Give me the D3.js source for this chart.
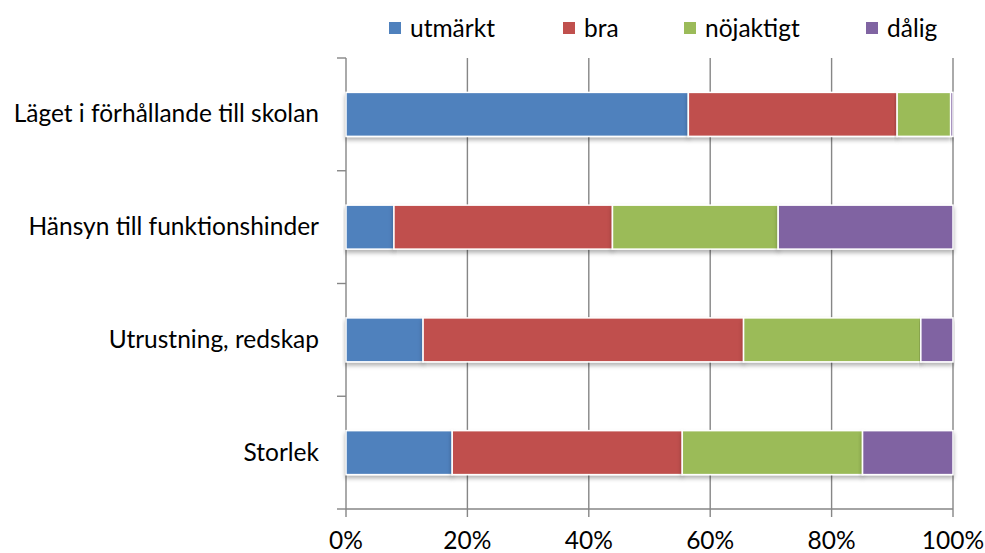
<!DOCTYPE html>
<html>
<head>
<meta charset="utf-8">
<script src="https://cdn.jsdelivr.net/npm/d3@7"></script>
<style>
  body { margin: 0; background: #fff; }
  svg text { font-family: Lato, "Open Sans", sans-serif; fill: #000; }
</style>
</head>
<body>
<svg width="985" height="553"></svg>
<script>
var categories = ["Läget i förhållande till skolan", "Hänsyn till funktionshinder", "Utrustning, redskap", "Storlek"];
var seriesNames = ["utmärkt", "bra", "nöjaktigt", "dålig"];
var colors = ["#4F81BD", "#C0504D", "#9BBB59", "#8064A2"];
// percentages per category, one array per series
var utmarkt   = [56.4, 7.9, 12.7, 17.5];
var bra       = [34.4, 36.0, 52.8, 37.9];
var nojaktigt = [8.8, 27.3, 29.2, 29.7];
var dalig     = [0.4, 28.8, 5.3, 14.9];
var tickLabels = ["0%", "20%", "40%", "60%", "80%", "100%"];

var svg = d3.select("svg");
var plotLeft = 346, plotRight = 953, plotTop = 58, plotBottom = 509;
var fontSize = 24.5;
var axisColor = "#868686";

var rows = categories.map(function(c, i) {
  return { cat: c, "utmärkt": utmarkt[i], "bra": bra[i], "nöjaktigt": nojaktigt[i], "dålig": dalig[i] };
});

var x = d3.scaleLinear().domain([0, 100]).range([plotLeft, plotRight]);
var y = d3.scaleBand().domain(categories).range([plotTop, plotBottom]).paddingInner(0.61).paddingOuter(0.305);
var stack = d3.stack().keys(seriesNames)(rows);

var defs = svg.append("defs");
defs.append("filter").attr("id", "shadow").attr("x", "-5%").attr("y", "-20%").attr("width", "110%").attr("height", "160%")
  .append("feDropShadow").attr("dx", 0).attr("dy", 3).attr("stdDeviation", 2)
  .attr("flood-color", "#000").attr("flood-opacity", 0.3);

// gridlines + bottom ticks
svg.append("g").selectAll("line").data(d3.range(1, 6))
  .enter().append("line")
  .attr("x1", function(d) { return x(d * 20); }).attr("x2", function(d) { return x(d * 20); })
  .attr("y1", plotTop).attr("y2", plotBottom + 8)
  .attr("stroke", axisColor).attr("stroke-width", 1.4);

// left axis with ticks at band boundaries
var yTicks = d3.range(categories.length + 1).map(function(i) { return plotTop + i * (plotBottom - plotTop) / categories.length; });
svg.append("line").attr("x1", plotLeft).attr("x2", plotLeft).attr("y1", plotTop).attr("y2", plotBottom + 8)
  .attr("stroke", axisColor).attr("stroke-width", 1.4);
svg.append("g").selectAll("line").data(yTicks).enter().append("line")
  .attr("x1", plotLeft - 9).attr("x2", plotLeft).attr("y1", function(d) { return d; }).attr("y2", function(d) { return d; })
  .attr("stroke", axisColor).attr("stroke-width", 1.4);

// bottom axis
svg.append("line").attr("x1", plotLeft).attr("x2", plotRight).attr("y1", plotBottom).attr("y2", plotBottom)
  .attr("stroke", axisColor).attr("stroke-width", 1.4);

// bars
svg.append("g").selectAll("g").data(stack).enter().append("g")
  .attr("fill", function(d, i) { return colors[i]; })
  .selectAll("rect").data(function(d) { return d; }).enter().append("rect")
  .attr("x", function(d) { return x(d[0]); })
  .attr("width", function(d) { return x(d[1]) - x(d[0]); })
  .attr("y", function(d) { return y(d.data.cat); })
  .attr("height", y.bandwidth())
  .attr("stroke", "#fff").attr("stroke-width", 1.5)
  .attr("filter", "url(#shadow)");

// category labels
svg.append("g").selectAll("text").data(categories).enter().append("text")
  .attr("x", 319).attr("y", function(d) { return y(d) + y.bandwidth() / 2 + 8; })
  .attr("text-anchor", "end").attr("font-size", fontSize)
  .text(function(d) { return d; });

// x tick labels
svg.append("g").selectAll("text").data(tickLabels).enter().append("text")
  .attr("x", function(d, i) { return x(i * 20); }).attr("y", 549)
  .attr("text-anchor", "middle").attr("font-size", fontSize)
  .text(function(d) { return d; });

// legend
var legendX = [389, 563, 684, 866];
var lg = svg.append("g").selectAll("g").data(seriesNames).enter().append("g")
  .attr("transform", function(d, i) { return "translate(" + legendX[i] + ",22)"; });
lg.append("rect").attr("x", 0).attr("y", 0).attr("width", 12).attr("height", 12)
  .attr("fill", function(d, i) { return colors[i]; });
lg.append("text").attr("x", 21).attr("y", 15).attr("font-size", fontSize)
  .text(function(d) { return d; });
</script>
</body>
</html>
